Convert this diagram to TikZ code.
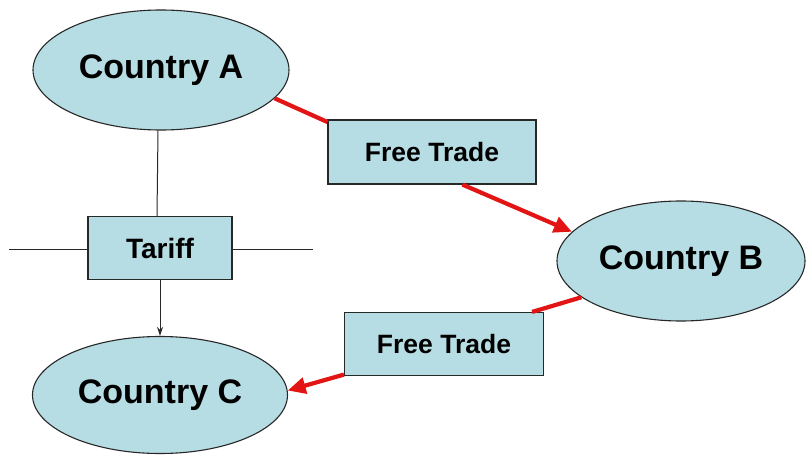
\documentclass[tikz,border=0pt]{standalone}
\usepackage{fontspec}
\setmainfont{Liberation Sans}
\usetikzlibrary{shapes.geometric,arrows.meta}
\definecolor{boxfill}{RGB}{183,221,228}
\definecolor{edgegray}{RGB}{40,40,40}
\definecolor{tradered}{RGB}{226,20,20}
\tikzset{
  country/.style={ellipse,draw=edgegray,line width=1.1pt,fill=boxfill,inner sep=0pt,
    font=\bfseries\fontsize{34}{40}\selectfont},
  labelbox/.style={rectangle,draw=edgegray,line width=1.1pt,fill=boxfill,inner sep=0pt,
    font=\bfseries\fontsize{26.5}{30}\selectfont},
  redline/.style={draw=tradered,line width=4.2pt},
  redarrow/.style={redline,-{Triangle[length=18pt,width=16pt]}},
  thinline/.style={draw=edgegray,line width=1pt},
  thinarrow/.style={thinline,-{Stealth[length=9pt,width=6pt]}}
}
\begin{document}
\begin{tikzpicture}[x=1pt,y=-1pt]
\useasboundingbox (0,0) rectangle (807,455);
\fill[white] (0,0) rectangle (807,455);
\node[country,minimum width=256pt,minimum height=120pt] (A) at (161,70) {Country A};
\node[country,minimum width=248pt,minimum height=120pt] (B) at (681,261) {Country B};
\node[country,minimum width=255pt,minimum height=117pt] (C) at (160,395) {Country C};
\node[labelbox,minimum width=208pt,minimum height=64pt] (F1) at (432,152) {Free Trade};
\node[labelbox,minimum width=199pt,minimum height=63pt] (F2) at (444,344) {Free Trade};
\node[labelbox,minimum width=144pt,minimum height=63pt,font=\bfseries\fontsize{28}{32}\selectfont] (T) at (160,248) {Tariff};
\coordinate (L) at (9,249);
\coordinate (R) at (313,249);
\draw[thinline] ([xshift=-3pt]A.south) -- ([xshift=-3pt]T.north);
\draw[thinarrow] (T.south) -- (C.north);
\draw[thinline] (L) -- (L -| T.west);
\draw[thinline] (R -| T.east) -- (R);
\draw[redline] (A.-14) -- (F1.164);
\draw[redarrow] (F1.-47) -- (B.165);
\draw[redline] (B.200) -- (F2.20);
\draw[redarrow] (F2.197) -- (C.2);
\end{tikzpicture}
\end{document}
